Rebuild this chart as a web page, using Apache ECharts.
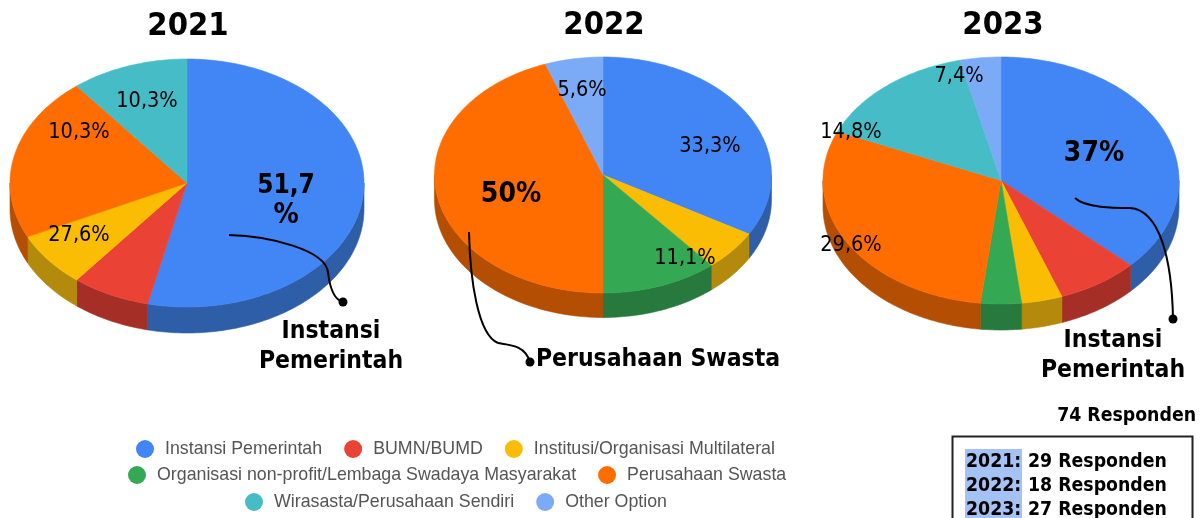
<!DOCTYPE html>
<html>
<head>
<meta charset="utf-8">
<script src="https://cdn.jsdelivr.net/npm/echarts@6/dist/echarts.min.js"></script>
<style>html,body{margin:0;padding:0;background:#fff}#c{width:1202px;height:518px}</style>
</head>
<body>
<div id="c"></div>
<script>
const categories = ['Instansi Pemerintah','BUMN/BUMD','Institusi/Organisasi Multilateral','Organisasi non-profit/Lembaga Swadaya Masyarakat','Perusahaan Swasta','Wirasasta/Perusahaan Sendiri','Other Option'];
const topColors = ['#4285f4','#ea4335','#fbbc04','#34a853','#ff6d01','#46bdc6','#7baaf7'];
const wallColors = ['#2f5ea9','#a52f26','#b48a0c','#27793d','#b34e03','#318489','#5677ad'];
const years = ['2021','2022','2023'];
const counts2021 = [15,2,2,0,6,3,0];
const counts2022 = [6,0,1,2,8,0,1];
const counts2023 = [10,2,1,1,8,4,1];
const allCounts = [counts2021,counts2022,counts2023];
const respondentTotal = '74 Responden';
const respondentYears = ['2021:','2022:','2023:'];
const respondentCounts = ['29 Responden','18 Responden','27 Responden'];
const pieLayout = [
  {cx:187,cy:183,rx:177,ry:124,depth:26},
  {cx:603,cy:175,rx:168.5,ry:118,depth:24.5},
  {cx:1001,cy:180.5,rx:178,ry:123.5,depth:26}
];
const legendRows = [
  {names:categories.slice(0,3),left:136,top:440},
  {names:categories.slice(3,5),left:128,top:466},
  {names:categories.slice(5,7),left:245,top:493}
];
const FONT = '"DejaVu Sans Condensed","DejaVu Sans",sans-serif';

function pt(p,a,dy){ // a: degrees clockwise from top
  const r=a*Math.PI/180;
  return [p.cx+p.rx*Math.sin(r), p.cy-p.ry*Math.cos(r)+(dy||0)];
}
function arc(p,a0,a1,dy){
  const out=[],n=Math.max(2,Math.ceil(Math.abs(a1-a0)));
  for(let i=0;i<=n;i++) out.push(pt(p,a0+(a1-a0)*i/n,dy));
  return out;
}
function renderItem(params,api){
  const cat=params.seriesIndex, y=params.dataIndex, v=api.value(0);
  if(!v) return null;
  const arr=allCounts[y], total=arr.reduce((s,x)=>s+x,0);
  let before=0; for(let i=0;i<cat;i++) before+=arr[i];
  const a0=before/total*360, a1=(before+v)/total*360, p=pieLayout[y];
  const children=[];
  const w0=Math.max(a0,90), w1=Math.min(a1,270);
  if(w1>w0){
    const pts=arc(p,w0,w1,0).concat(arc(p,w1,w0,p.depth));
    children.push({type:'polygon',shape:{points:pts},style:{fill:wallColors[cat],stroke:wallColors[cat],lineWidth:0.6}});
  }
  children.push({type:'polygon',shape:{points:[[p.cx,p.cy]].concat(arc(p,a0,a1,0))},style:{fill:topColors[cat],stroke:topColors[cat],lineWidth:0.6}});
  return {type:'group',children};
}
const series=categories.map((name,c)=>({
  type:'custom',name,coordinateSystem:'none',renderItem,silent:true,animation:false,
  itemStyle:{color:topColors[c]},
  data:allCounts.map(a=>[a[c]])
}));
const legend=legendRows.map(r=>({
  data:r.names,left:r.left,top:r.top,padding:0,orient:'horizontal',icon:'circle',itemWidth:18,itemHeight:18,itemGap:22,
  selectedMode:false,
  textStyle:{fontFamily:'Liberation Sans, Arial, sans-serif',fontSize:17.8,color:'#555',padding:[0,0,0,6]}
}));
function text(str,x,y,size,bold,align){
  return {type:'text',z:20,style:{text:str,x,y:y+1,fill:'#000',font:(bold?'bold ':'')+size+'px '+FONT,textAlign:align||'center',textVerticalAlign:'middle'}};
}
function bez(a){
  return {type:'bezierCurve',z:20,shape:{x1:a[0],y1:a[1],cpx1:a[2],cpy1:a[3],cpx2:a[4],cpy2:a[5],x2:a[6],y2:a[7]},style:{fill:'none',stroke:'#000',lineWidth:2}};
}
function dot(x,y){ return {type:'circle',z:20,shape:{cx:x,cy:y,r:4.5},style:{fill:'#000'}}; }
const graphics=[
  {type:'rect',z:15,shape:{x:965,y:449,width:57,height:69},style:{fill:'#a4c2f4'}},
  {type:'rect',z:16,shape:{x:952.5,y:436.5,width:240,height:90},style:{fill:'none',stroke:'#222',lineWidth:2}},
  text(years[0],188,26,32.5,true),text(years[1],604,25,32.5,true),text(years[2],1003,25,32.5,true),
  text('10,3%',147,100,21.5),text('10,3%',79,131,21.5),text('27,6%',79,234,21.5),
  text('51,7',286,185,26,true),text('%',286,215,28,true),
  text('5,6%',582,89,21.5),text('33,3%',710,145,21.5),text('11,1%',685,257,21.5),text('50%',511,194,28,true),
  text('7,4%',959,75,21.5),text('14,8%',851,131,21.5),text('29,6%',851,244,21.5),text('37%',1094,153,28,true),
  text('Instansi',331,331,24.5,true),text('Pemerintah',331,361,24.5,true),
  text('Perusahaan Swasta',658,359,24.5,true),
  text('Instansi',1113,340,24.5,true),text('Pemerintah',1113,370,24.5,true),
  text(respondentTotal,1196,415,19.3,true,'right'),
  ...respondentYears.map((t,i)=>text(t,966,461+24*i,19.3,true,'left')),
  ...respondentCounts.map((t,i)=>text(t,1028,461+24*i,19.3,true,'left')),
  bez([229,235,270,236,325,250,328,272]),bez([328,272,330,290,335,300,343,302]),dot(343,302),
  bez([469,232,470,280,478,335,498,343]),bez([498,343,510,345,525,345,530,362]),dot(530,362),
  bez([1075,198,1085,208,1115,208,1130,208]),bez([1130,208,1160,210,1172,260,1173,319]),dot(1173,319)
];
const chart=echarts.init(document.getElementById('c'),null,{renderer:'canvas'});
chart.setOption({animation:false,backgroundColor:'#fff',legend,series,graphic:{elements:graphics}});
</script>
</body>
</html>
